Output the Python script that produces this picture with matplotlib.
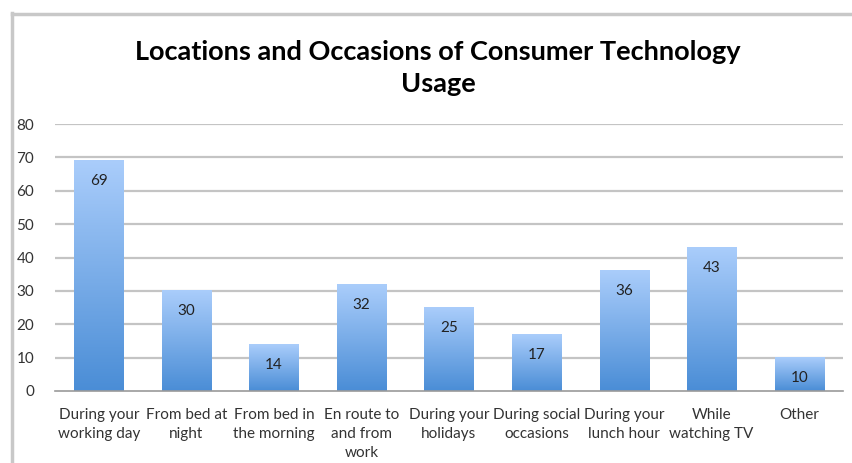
import matplotlib
matplotlib.use("Agg")
import matplotlib.pyplot as plt
import numpy as np
from matplotlib.colors import LinearSegmentedColormap
from matplotlib.lines import Line2D

categories = ["During your\nworking day", "From bed at\nnight", "From bed in\nthe morning",
              "En route to\nand from\nwork", "During your\nholidays", "During social\noccasions",
              "During your\nlunch hour", "While\nwatching TV", "Other"]
values = [69, 30, 14, 32, 25, 17, 36, 43, 10]
yticks = [0, 10, 20, 30, 40, 50, 60, 70, 80]
title = "Locations and Occasions of Consumer Technology\nUsage"

plt.rcParams['font.family'] = ['Lato', 'DejaVu Sans']

fig = plt.figure(figsize=(8.52, 4.63), dpi=100)
W, H = 852, 463
ax = fig.add_axes([55 / W, 1 - 391 / H, (843 - 55) / W, (391 - 124) / H])

cmap = LinearSegmentedColormap.from_list("g", ["#4a8dd6", "#aacdfb"])
x = np.arange(len(values))
bw = 0.56
grad = np.linspace(0, 1, 256).reshape(-1, 1)
for xi, v in zip(x, values):
    ax.imshow(grad, extent=[xi - bw / 2, xi + bw / 2, 0, v], origin="lower",
              cmap=cmap, aspect="auto", zorder=2)
    ax.text(xi, v - 6.1, str(v), ha="center", va="center", fontsize=11, color="#222222", zorder=3)

ax.set_aspect("auto")
ax.set_xlim(-0.5, len(values) - 0.5)
ax.set_ylim(0, 80)
ax.set_yticks(yticks)
ax.set_yticklabels([str(t) for t in yticks], fontsize=11, color="#333333")
ax.set_xticks(x)
ax.set_xticklabels(categories, fontsize=11, color="#333333", linespacing=1.45)
ax.tick_params(axis="both", length=0)
ax.tick_params(axis="y", pad=15)
ax.tick_params(axis="x", pad=12)
for t in yticks[1:]:
    ax.axhline(t, color="#c4c4c4", lw=1.6, zorder=1)
for s in ["top", "right", "left"]:
    ax.spines[s].set_visible(False)
ax.spines["bottom"].set_color("#9a9a9a")
ax.spines["bottom"].set_linewidth(1.2)

fig.text(438 / W, 1 - 68 / H, title, ha="center", va="center", fontsize=19.5,
         fontweight="bold", color="black", linespacing=1.42)

# outer frame
fig.add_artist(Line2D([12 / W, 12 / W], [0, 1 - 13 / H], transform=fig.transFigure,
                      color="#c8c8c8", lw=2.5))
fig.add_artist(Line2D([12 / W, 1], [1 - 14 / H, 1 - 14 / H], transform=fig.transFigure,
                      color="#c8c8c8", lw=2.5))

fig.savefig("out.png", dpi=100)
